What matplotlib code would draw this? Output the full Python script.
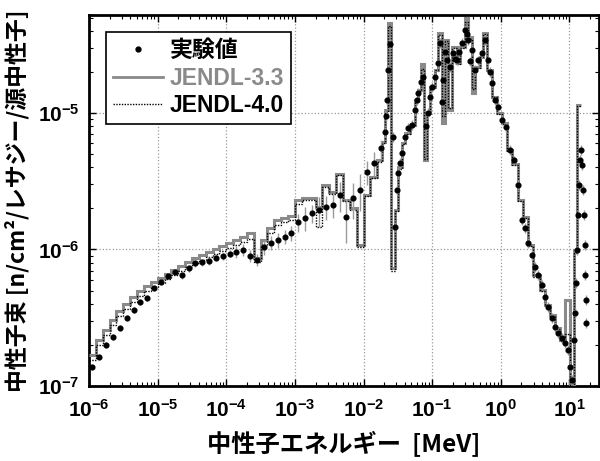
import matplotlib
matplotlib.use("Agg")
import matplotlib.pyplot as plt
from matplotlib.lines import Line2D
from matplotlib.ticker import LogLocator

plt.rcParams["font.family"] = ["Liberation Sans", "Noto Sans CJK JP", "DejaVu Sans"]
plt.rcParams["mathtext.fontset"] = "custom"
plt.rcParams["mathtext.rm"] = "Liberation Sans:bold"
plt.rcParams["mathtext.it"] = "Liberation Sans:bold"
plt.rcParams["mathtext.bf"] = "Liberation Sans:bold"
plt.rcParams["font.weight"] = "bold"

# group edges [MeV]: 10 per decade up to 12.6 keV, then read-off fine groups
EDGES = [
    1.00e-6, 1.26e-6, 1.58e-6, 2.00e-6, 2.51e-6, 3.16e-6, 3.98e-6, 5.01e-6, 6.31e-6, 7.94e-6,
    1.00e-5, 1.26e-5, 1.58e-5, 2.00e-5, 2.51e-5, 3.16e-5, 3.98e-5, 5.01e-5, 6.31e-5, 7.94e-5,
    1.00e-4, 1.26e-4, 1.58e-4, 2.00e-4, 2.51e-4, 3.16e-4, 3.98e-4, 5.01e-4, 6.31e-4, 7.94e-4,
    1.00e-3, 1.26e-3, 1.58e-3, 2.00e-3, 2.51e-3, 3.16e-3, 3.98e-3, 5.01e-3, 6.31e-3, 7.94e-3,
    1.00e-2, 1.26e-2,
    1.58e-2, 1.87e-2, 2.06e-2, 2.28e-2, 2.52e-2, 2.89e-2, 3.19e-2, 3.65e-2, 4.04e-2, 4.78e-2,
    5.65e-2, 6.25e-2, 6.92e-2, 7.64e-2, 8.45e-2, 9.35e-2, 0.111, 0.122, 0.140, 0.155,
    0.171, 0.196, 0.231, 0.256, 0.303, 0.335, 0.383, 0.424, 0.501, 0.554,
    0.634, 0.750, 0.887, 1.05, 1.24, 1.47, 1.79, 2.12, 2.51, 2.97,
    3.75, 4.43, 5.25, 6.21, 7.35, 8.68, 10.3, 11.7, 13.0, 14.9,
]

JENDL33 = [
    1.69e-7, 2.17e-7, 2.57e-7, 3.05e-7, 3.54e-7, 3.99e-7, 4.49e-7, 4.97e-7, 5.40e-7, 5.78e-7,
    6.18e-7, 6.62e-7, 7.08e-7, 7.57e-7, 8.10e-7, 8.67e-7, 9.12e-7, 9.60e-7, 1.01e-6, 1.06e-6,
    1.12e-6, 1.17e-6, 1.24e-6, 1.32e-6, 8.70e-7, 1.17e-6, 1.44e-6, 1.64e-6, 1.70e-6, 1.76e-6,
    2.30e-6, 2.38e-6, 2.38e-6, 2.05e-6, 2.97e-6, 2.64e-6, 3.60e-6, 2.30e-6, 2.00e-6, 1.08e-6,
    2.50e-6,
    3.40e-6, 4.50e-6, 6.10e-6, 1.05e-5, 4.56e-5, 7.30e-7, 1.95e-6, 4.00e-6, 6.00e-6, 7.10e-6,
    8.20e-6, 1.24e-5, 1.47e-5, 2.30e-5, 4.50e-6, 1.00e-5, 1.55e-5, 2.07e-5, 3.85e-5, 8.45e-6,
    3.43e-5, 1.05e-5, 3.05e-5, 2.32e-5, 3.05e-5, 5.00e-5, 3.60e-5, 1.40e-5, 2.17e-5, 2.57e-5,
    3.85e-5, 2.07e-5, 1.31e-5, 1.00e-5, 8.45e-6, 5.35e-6, 4.20e-6, 2.30e-6, 1.73e-6, 1.08e-6,
    6.50e-7, 5.05e-7, 3.92e-7, 3.31e-7, 2.66e-7, 2.17e-7, 4.27e-7, 9.00e-8, 9.90e-7, 1.15e-5,
]

JENDL40 = [
    1.55e-7, 2.00e-7, 2.37e-7, 2.80e-7, 3.25e-7, 3.67e-7, 4.12e-7, 4.57e-7, 4.97e-7, 5.30e-7,
    5.68e-7, 6.08e-7, 6.50e-7, 6.95e-7, 7.45e-7, 7.95e-7, 8.40e-7, 8.80e-7, 9.25e-7, 9.70e-7,
    1.02e-6, 1.07e-6, 1.13e-6, 1.20e-6, 8.10e-7, 1.08e-6, 1.33e-6, 1.52e-6, 1.58e-6, 1.65e-6,
    2.15e-6, 2.30e-6, 2.30e-6, 1.45e-6, 2.85e-6, 2.55e-6, 3.50e-6, 2.25e-6, 1.95e-6, 1.05e-6,
    2.45e-6,
    3.35e-6, 4.40e-6, 6.00e-6, 1.02e-5, 4.30e-5, 7.00e-7, 1.90e-6, 3.90e-6, 5.90e-6, 7.00e-6,
    8.10e-6, 1.22e-5, 1.45e-5, 2.10e-5, 4.60e-6, 9.80e-6, 1.52e-5, 2.05e-5, 3.75e-5, 9.50e-6,
    3.35e-5, 1.08e-5, 3.00e-5, 2.30e-5, 3.00e-5, 4.60e-5, 3.50e-5, 1.50e-5, 2.15e-5, 2.55e-5,
    3.80e-5, 2.05e-5, 1.30e-5, 9.90e-6, 8.30e-6, 5.30e-6, 4.15e-6, 2.28e-6, 1.70e-6, 1.06e-6,
    6.30e-7, 4.95e-7, 3.85e-7, 3.25e-7, 2.60e-7, 2.12e-7, 2.40e-7, 9.00e-8, 9.50e-7, 1.12e-5,
]

# measured points, coarse part (group centres) with relative errors
EXP_E_LOW = [
    1.12e-6, 1.41e-6, 1.78e-6, 2.24e-6, 2.82e-6, 3.55e-6, 4.47e-6, 5.62e-6, 7.08e-6, 8.91e-6,
    1.12e-5, 1.41e-5, 1.78e-5, 2.24e-5, 2.82e-5, 3.55e-5, 4.47e-5, 5.62e-5, 7.08e-5, 8.91e-5,
    1.12e-4, 1.41e-4, 1.78e-4, 2.24e-4, 2.82e-4, 3.55e-4, 4.47e-4, 5.62e-4, 7.08e-4, 8.91e-4,
    1.12e-3, 1.41e-3, 1.78e-3, 2.24e-3, 2.82e-3, 3.55e-3, 4.47e-3, 5.62e-3, 7.08e-3, 8.91e-3,
    1.12e-2, 1.41e-2, 1.78e-2,
]
EXP_F_LOW = [
    1.38e-7, 1.63e-7, 2.00e-7, 2.29e-7, 2.66e-7, 3.15e-7, 3.60e-7, 4.12e-7, 4.42e-7, 5.20e-7,
    5.80e-7, 6.40e-7, 6.85e-7, 6.50e-7, 7.30e-7, 7.95e-7, 8.10e-7, 8.25e-7, 8.70e-7, 8.95e-7,
    9.30e-7, 9.60e-7, 9.90e-7, 8.95e-7, 8.40e-7, 1.04e-6, 1.12e-6, 1.17e-6, 1.24e-6, 1.32e-6,
    1.59e-6, 1.70e-6, 1.85e-6, 1.95e-6, 2.05e-6, 2.12e-6, 2.50e-6, 1.73e-6, 2.38e-6, 2.73e-6,
    3.70e-6, 4.30e-6, 5.55e-6,
]
EXP_ERR_LOW = [
    0.05, 0.05, 0.05, 0.05, 0.05, 0.05, 0.05, 0.05, 0.05, 0.05,
    0.05, 0.05, 0.05, 0.06, 0.06, 0.06, 0.06, 0.06, 0.06, 0.06,
    0.06, 0.10, 0.10, 0.10, 0.10, 0.12, 0.12, 0.12, 0.12, 0.12,
    0.15, 0.20, 0.15, 0.25, 0.20, 0.20, 0.25, 0.35, 0.30, 0.30,
    0.20, 0.20, 0.15,
]

# measured points, fine part
EXP_E_HIGH = [
    2.07e-2, 2.14e-2, 2.21e-2, 2.28e-2, 2.40e-2, 2.70e-2, 2.89e-2, 3.09e-2, 3.19e-2, 3.41e-2,
    3.65e-2, 4.04e-2, 4.47e-2, 5.11e-2, 5.60e-2, 6.04e-2, 6.25e-2, 6.80e-2, 7.39e-2, 8.10e-2,
    8.75e-2, 0.093, 0.100, 0.111, 0.122, 0.131, 0.138, 0.145, 0.155, 0.166,
    0.183, 0.202, 0.215, 0.231, 0.250, 0.274, 0.303, 0.320, 0.335, 0.360,
    0.383, 0.424, 0.469, 0.536, 0.593, 0.655, 0.700, 0.750, 0.829, 0.916,
    1.05, 1.20, 1.37, 1.57, 1.79, 2.05, 2.27, 2.51, 2.87, 3.17,
    3.51, 4.01, 4.43, 4.91, 5.61, 6.21, 6.87, 7.85, 8.68, 9.60,
    10.3, 11.0, 11.7, 12.2, 12.6, 13.0, 13.4, 13.9, 14.4, 14.9,
    15.4, 15.9, 16.4, 16.7, 17.0, 17.3, 17.6,
]
EXP_F_HIGH = [
    7.26e-6, 9.50e-6, 1.24e-5, 2.07e-5, 3.20e-5, 6.67e-6, 1.46e-6, 2.73e-6, 3.63e-6, 4.30e-6,
    5.10e-6, 6.67e-6, 7.76e-6, 8.20e-6, 1.05e-5, 1.24e-5, 1.40e-5, 1.70e-5, 1.84e-5, 8.00e-6,
    1.00e-5, 1.30e-5, 1.55e-5, 1.84e-5, 2.32e-5, 3.26e-5, 1.20e-5, 1.75e-5, 2.80e-5, 2.44e-5,
    2.17e-5, 2.75e-5, 2.50e-5, 2.44e-5, 2.80e-5, 3.26e-5, 4.06e-5, 3.80e-5, 3.43e-5, 2.40e-5,
    2.90e-5, 2.07e-5, 2.44e-5, 2.75e-5, 3.43e-5, 2.44e-5, 2.00e-5, 1.66e-5, 1.24e-5, 1.11e-5,
    8.89e-6, 7.90e-6, 5.35e-6, 4.50e-6, 2.97e-6, 1.64e-6, 1.44e-6, 1.12e-6, 9.12e-7, 7.45e-7,
    6.50e-7, 5.50e-7, 4.49e-7, 3.79e-7, 3.15e-7, 2.71e-7, 2.45e-7, 2.25e-7, 2.07e-7, 1.84e-7,
    1.38e-7, 1.11e-7, 2.17e-7, 3.43e-7, 5.68e-7, 9.90e-7, 1.79e-6, 2.97e-6, 4.53e-6, 5.36e-6,
    4.16e-6, 2.73e-6, 1.79e-6, 1.08e-6, 6.50e-7, 4.27e-7, 2.90e-7,
]
EXP_ERR_HIGH = 0.08

fig = plt.figure(figsize=(6.0, 4.61), dpi=100)
ax = fig.add_axes([89 / 600, 75 / 461, 510 / 600, 371 / 461])

ax.stairs(JENDL33, EDGES, baseline=None, color="#8a8a8a", linewidth=2.2, zorder=3)
ax.stairs(JENDL40, EDGES, baseline=None, color="black", linewidth=1.0,
          linestyle=(0, (1, 1)), zorder=4)

for e_list, f_list, err in [
    (EXP_E_LOW, EXP_F_LOW, EXP_ERR_LOW),
    (EXP_E_HIGH, EXP_F_HIGH, [EXP_ERR_HIGH] * len(EXP_E_HIGH)),
]:
    lo = [f * r for f, r in zip(f_list, err)]
    ax.errorbar(e_list, f_list, yerr=[lo, lo], fmt="o", ms=3.4, color="black",
                ecolor="#9a9a9a", elinewidth=1.0, capsize=0, zorder=5)

ax.set_xscale("log")
ax.set_yscale("log")
ax.set_xlim(1e-6, 27)
ax.set_ylim(1e-7, 5.22e-5)
ax.xaxis.set_major_locator(LogLocator(base=10, numticks=12))
ax.xaxis.set_minor_locator(LogLocator(base=10, subs=range(2, 10), numticks=12))

ax.grid(True, which="major", color="#9a9a9a", linestyle=":", linewidth=0.9, zorder=0)
ax.tick_params(which="both", direction="in", top=True, right=True, labelsize=15)
ax.tick_params(which="major", length=5, width=1.0, pad=7)
ax.tick_params(axis="x", which="major", pad=9)
ax.tick_params(which="minor", length=3, width=0.8)
for sp in ax.spines.values():
    sp.set_linewidth(2.0)

ax.set_xlabel("中性子エネルギー  [MeV]", fontsize=17.5, fontweight="bold",
              family=["Noto Sans CJK JP", "DejaVu Sans"], labelpad=8)
ax.set_ylabel("中性子束 [n/cm²/レサジー/源中性子]", fontsize=16.5, fontweight="bold",
              family=["Noto Sans CJK JP", "DejaVu Sans"], labelpad=6)

handles = [
    Line2D([], [], linestyle="none", marker="o", ms=3.5, color="black"),
    Line2D([], [], color="#8a8a8a", linewidth=2.0),
    Line2D([], [], color="black", linewidth=1.0, linestyle=(0, (1, 1))),
]
leg = ax.legend(handles, ["実験値", "JENDL-3.3", "JENDL-4.0"],
                loc="upper left", bbox_to_anchor=(0.033, 0.953),
                fancybox=False, framealpha=1, edgecolor="black",
                handlelength=2.2, handletextpad=0.3, labelspacing=0.2,
                borderpad=0.3, borderaxespad=0,
                prop={"family": ["Liberation Sans", "Noto Sans CJK JP"],
                      "weight": "bold", "size": 16.5})
leg.get_frame().set_linewidth(1.2)
for txt, col in zip(leg.get_texts(), ["black", "#8a8a8a", "black"]):
    txt.set_color(col)

fig.savefig("out.png", dpi=100)
